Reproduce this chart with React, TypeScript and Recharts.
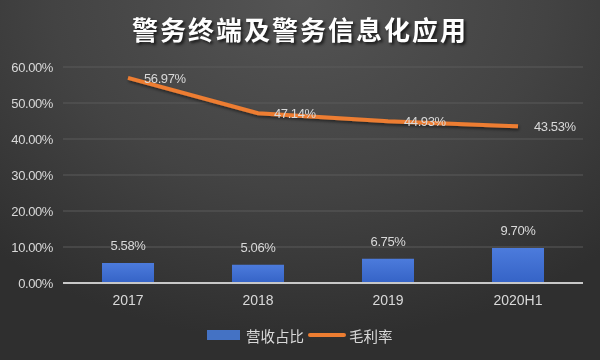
import { Bar, ComposedChart, Line, XAxis, YAxis, CartesianGrid, LabelList } from "recharts";

const years = ["2017", "2018", "2019", "2020H1"];
const revenueShare = [5.58, 5.06, 6.75, 9.7];
const grossMargin = [56.97, 47.14, 44.93, 43.53];
const yTicks = [0, 10, 20, 30, 40, 50, 60];

const data = years.map((year, i) => ({
  year,
  share: revenueShare[i],
  margin: grossMargin[i],
}));

const pct = (v: number) => `${Number(v).toFixed(2)}%`;

export default function App() {
  return (
    <div
      style={{
        position: "fixed",
        left: 0,
        top: 0,
        width: 600,
        height: 360,
        background: "radial-gradient(ellipse 75% 95% at 50% 0%, #545454 0%, #434343 55%, #2f2f2f 100%)",
        fontFamily: "'Liberation Sans', Arial, sans-serif",
        overflow: "hidden",
      }}
    >
      <div
        style={{
          position: "absolute",
          top: 12,
          left: 0,
          width: 600,
          textAlign: "center",
          color: "#ffffff",
          fontSize: 26,
          fontWeight: "bold",
          letterSpacing: 2,
          fontFamily: "'Noto Sans CJK SC', sans-serif",
          textShadow: "2px 2px 3px rgba(0,0,0,0.7)",
          lineHeight: "34px",
        }}
      >
        警务终端及警务信息化应用
      </div>

      <ComposedChart
        width={600}
        height={360}
        data={data}
        margin={{ top: 67, right: 17, left: 0, bottom: 47 }}
      >
        <defs>
          <linearGradient id="barFill" x1="0" y1="0" x2="0" y2="1">
            <stop offset="0%" stopColor="#4c7bdc" />
            <stop offset="100%" stopColor="#3563c6" />
          </linearGradient>
          <filter id="lineShadow" x="-10%" y="-50%" width="120%" height="200%">
            <feDropShadow dx="1" dy="2" stdDeviation="1.5" floodColor="#000" floodOpacity="0.5" />
          </filter>
        </defs>
        <CartesianGrid stroke="#5a5a5a" vertical={false} />
        <XAxis
          dataKey="year"
          axisLine={{ stroke: "#c8c8c8", strokeWidth: 2 }}
          tickLine={false}
          tick={{ fill: "#d9d9d9", fontSize: 14 }}
          dy={4}
        />
        <YAxis
          width={63}
          domain={[0, 60]}
          ticks={yTicks}
          tickFormatter={pct}
          axisLine={false}
          tickLine={false}
          tick={{ fill: "#d9d9d9", fontSize: 13, letterSpacing: -0.4 }}
          dx={-2}
        />
        <Bar dataKey="share" fill="url(#barFill)" barSize={52} isAnimationActive={false}>
          <LabelList
            dataKey="share"
            position="top"
            offset={13}
            formatter={pct}
            fill="#d9d9d9"
            fontSize={13}
            style={{ letterSpacing: -0.4 }}
          />
        </Bar>
        <Line
          dataKey="margin"
          stroke="#ed7d31"
          strokeWidth={4}
          dot={false}
          filter="url(#lineShadow)"
          isAnimationActive={false}
        >
          <LabelList
            dataKey="margin"
            position="right"
            offset={16}
            formatter={pct}
            fill="#d9d9d9"
            fontSize={13}
            style={{ letterSpacing: -0.4 }}
          />
        </Line>
      </ComposedChart>

      <div
        style={{
          position: "absolute",
          top: 325,
          left: 207,
          display: "flex",
          alignItems: "center",
          height: 20,
          color: "#d9d9d9",
          fontSize: 14.5,
          fontFamily: "'Noto Sans CJK SC', sans-serif",
        }}
      >
        <span style={{ width: 33, height: 10, background: "#4472c4", display: "inline-block" }} />
        <span style={{ marginLeft: 6, marginRight: 4 }}>营收占比</span>
        <span style={{ width: 38, height: 4, background: "#ed7d31", display: "inline-block", borderRadius: 2 }} />
        <span style={{ marginLeft: 3 }}>毛利率</span>
      </div>
    </div>
  );
}
